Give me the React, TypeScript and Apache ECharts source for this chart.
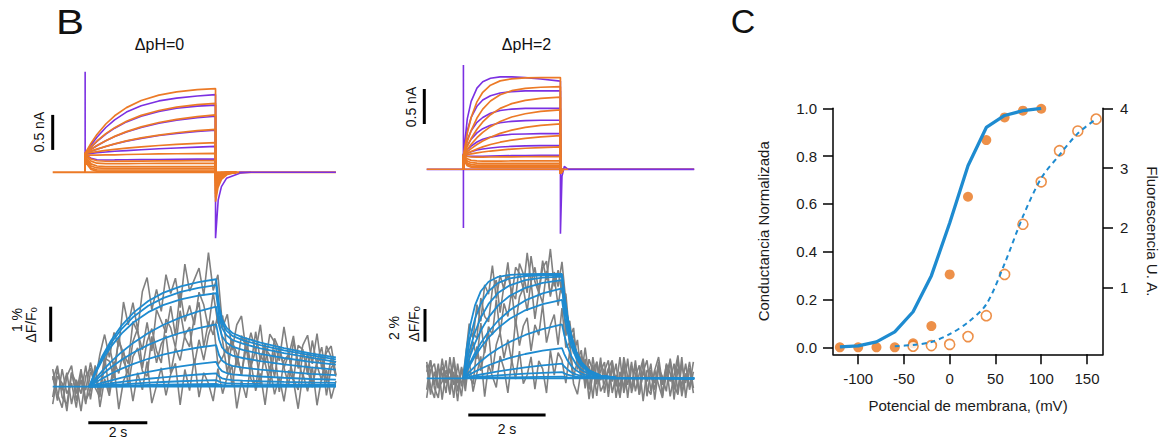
import React, { useEffect, useRef } from "react";
import * as echarts from "echarts";

// ---------------- Panel B, top left: currents, ΔpH=0 (nA vs s) ----------------
const tlOn = 1.1;
const tlOff = 5.52;
const tlEnd = 9.6;
const tlRiseT = [0, 0.2, 0.4, 0.7, 1.0, 1.4, 1.9, 2.5, 3.1, 3.8, 4.42];
const tlFits = [
  [0.27, 0.416, 0.539, 0.69, 0.807, 0.924, 1.025, 1.102, 1.148, 1.18, 1.196],
  [0.27, 0.364, 0.447, 0.552, 0.638, 0.729, 0.813, 0.883, 0.93, 0.966, 0.986],
  [0.27, 0.329, 0.382, 0.452, 0.513, 0.581, 0.649, 0.711, 0.757, 0.796, 0.82],
  [0.27, 0.302, 0.331, 0.371, 0.407, 0.448, 0.491, 0.532, 0.565, 0.594, 0.614],
  [0.27, 0.283, 0.295, 0.312, 0.327, 0.345, 0.364, 0.383, 0.399, 0.414, 0.424],
  [0.25, 0.245, 0.245, 0.248, 0.25, 0.254, 0.258, 0.262, 0.265, 0.268, 0.271],
  [0.25, 0.19, 0.165, 0.158, 0.158, 0.16, 0.161, 0.163, 0.164, 0.166, 0.167],
  [0.24, 0.16, 0.13, 0.124, 0.124, 0.125, 0.126, 0.127, 0.128, 0.128, 0.129],
  [0.22, 0.12, 0.09, 0.082, 0.08, 0.08, 0.08, 0.081, 0.081, 0.081, 0.081],
  [0.2, 0.09, 0.062, 0.057, 0.057, 0.057, 0.057, 0.057, 0.057, 0.057, 0.057],
  [0.18, 0.06, 0.036, 0.033, 0.033, 0.033, 0.033, 0.033, 0.033, 0.033, 0.033],
  [0.15, 0.04, 0.017, 0.015, 0.015, 0.015, 0.015, 0.015, 0.015, 0.015, 0.015],
];
const tlTailT = [0, 0.08, 0.2, 0.4, 0.7];
const tlFitTails = [
  [-0.42, -0.22, -0.1, -0.03, 0],
  [-0.36, -0.18, -0.08, -0.02, 0],
  [-0.31, -0.15, -0.07, -0.02, 0],
  [-0.26, -0.12, -0.05, -0.01, 0],
  [-0.2, -0.09, -0.04, -0.01, 0],
  [-0.15, -0.07, -0.03, -0.01, 0],
  [-0.12, -0.05, -0.02, 0, 0],
  [-0.1, -0.04, -0.02, 0, 0],
  [-0.08, -0.03, -0.01, 0, 0],
  [-0.06, -0.03, -0.01, 0, 0],
  [-0.05, -0.02, -0.01, 0, 0],
  [-0.04, -0.02, 0, 0, 0],
];
const tlRaw = [
  [0.27, 0.39, 0.5, 0.64, 0.75, 0.86, 0.95, 1.02, 1.06, 1.09, 1.11],
  [0.27, 0.36, 0.44, 0.545, 0.63, 0.72, 0.8, 0.87, 0.915, 0.945, 0.96],
  [0.27, 0.33, 0.38, 0.45, 0.51, 0.575, 0.64, 0.7, 0.745, 0.78, 0.8],
  [0.27, 0.3, 0.33, 0.37, 0.405, 0.445, 0.485, 0.525, 0.555, 0.582, 0.6],
  [0.26, 0.27, 0.28, 0.29, 0.3, 0.31, 0.322, 0.336, 0.348, 0.36, 0.37],
  [0.25, 0.2, 0.18, 0.176, 0.177, 0.179, 0.181, 0.183, 0.185, 0.188, 0.19],
];
const tlSpike = 1.437;
const tlRawTailT = [0, 0.09, 0.2, 0.37, 0.82, 1.2];
const tlRawTail = [-0.943, -0.395, -0.205, -0.086, -0.014, 0];

// ---------------- Panel B, top right: currents, ΔpH=2 ----------------
const trOn = 0.95;
const trOff = 3.46;
const trEnd = 6.92;
const trRiseT = [0, 0.1, 0.2, 0.35, 0.5, 0.7, 0.95, 1.25, 1.6, 2.0, 2.51];
const trFits = [
  [0.2, 0.515, 0.74, 0.964, 1.1, 1.202, 1.263, 1.293, 1.305, 1.309, 1.31],
  [0.2, 0.396, 0.553, 0.732, 0.86, 0.976, 1.065, 1.123, 1.156, 1.172, 1.18],
  [0.2, 0.329, 0.439, 0.573, 0.677, 0.78, 0.87, 0.938, 0.984, 1.013, 1.03],
  [0.2, 0.284, 0.358, 0.451, 0.528, 0.609, 0.684, 0.747, 0.794, 0.827, 0.85],
  [0.2, 0.25, 0.296, 0.354, 0.404, 0.459, 0.513, 0.56, 0.598, 0.628, 0.65],
  [0.2, 0.229, 0.255, 0.29, 0.32, 0.354, 0.387, 0.418, 0.443, 0.464, 0.48],
  [0.2, 0.211, 0.221, 0.235, 0.247, 0.261, 0.275, 0.289, 0.301, 0.311, 0.32],
  [0.2, 0.185, 0.178, 0.175, 0.175, 0.176, 0.177, 0.178, 0.179, 0.18, 0.18],
  [0.2, 0.15, 0.128, 0.12, 0.118, 0.118, 0.118, 0.119, 0.119, 0.12, 0.12],
  [0.19, 0.12, 0.095, 0.087, 0.085, 0.085, 0.085, 0.085, 0.085, 0.085, 0.085],
  [0.18, 0.09, 0.068, 0.061, 0.06, 0.06, 0.06, 0.06, 0.06, 0.06, 0.06],
  [0.16, 0.07, 0.046, 0.041, 0.04, 0.04, 0.04, 0.04, 0.04, 0.04, 0.04],
  [0.14, 0.05, 0.03, 0.026, 0.025, 0.025, 0.025, 0.025, 0.025, 0.025, 0.025],
];
const trFitTailT = [0, 0.08];
const trFitTail = [-0.06, 0];
const trRaw = [
  [0.2, 0.72, 0.97, 1.16, 1.25, 1.3, 1.32, 1.32, 1.31, 1.29, 1.26],
  [0.2, 0.55, 0.74, 0.9, 0.99, 1.05, 1.09, 1.11, 1.12, 1.12, 1.12],
  [0.2, 0.42, 0.55, 0.67, 0.74, 0.8, 0.84, 0.86, 0.87, 0.87, 0.87],
  [0.2, 0.34, 0.43, 0.52, 0.58, 0.63, 0.665, 0.685, 0.695, 0.7, 0.7],
  [0.2, 0.28, 0.33, 0.39, 0.43, 0.46, 0.485, 0.5, 0.505, 0.51, 0.51],
  [0.2, 0.23, 0.25, 0.275, 0.29, 0.305, 0.318, 0.328, 0.334, 0.338, 0.34],
  [0.2, 0.19, 0.185, 0.185, 0.187, 0.19, 0.193, 0.195, 0.197, 0.199, 0.2],
];
const trSpikeUp = 1.49;
const trSpikeDown = -0.84;
const trRawTailT = [0, 0.04, 0.1, 0.2];
const trRawTail = [-0.92, -0.1, 0.04, 0];

// ---------------- Panel B, bottom left: fluorescence, ΔpH=0 (% vs s) ----------------
const blOn = 1.24;
const blOff = 5.54;
const blEnd = 9.6;
const blRiseT = [0, 0.2, 0.45, 0.75, 1.1, 1.5, 2, 2.5, 3.1, 3.7, 4.3];
const blDecayT = [0.1, 0.2, 0.35, 0.55, 0.9, 1.5, 2.3, 3.2, 4.06];
const blFitRise = [
  [0, 0.429, 0.885, 1.335, 1.752, 2.117, 2.448, 2.68, 2.868, 2.99, 3.07],
  [0, 0.405, 0.836, 1.262, 1.655, 2.0, 2.312, 2.531, 2.709, 2.825, 2.9],
  [0, 0.373, 0.77, 1.161, 1.524, 1.841, 2.129, 2.33, 2.494, 2.601, 2.67],
  [0, 0.215, 0.459, 0.723, 0.993, 1.259, 1.536, 1.763, 1.982, 2.155, 2.29],
  [0, 0.167, 0.357, 0.562, 0.772, 0.978, 1.194, 1.371, 1.541, 1.675, 1.78],
  [0, 0.112, 0.239, 0.376, 0.516, 0.654, 0.798, 0.916, 1.03, 1.12, 1.19],
  [0, 0.053, 0.115, 0.184, 0.259, 0.337, 0.424, 0.501, 0.581, 0.65, 0.71],
  [0, 0.028, 0.061, 0.099, 0.139, 0.18, 0.227, 0.268, 0.311, 0.348, 0.38],
  [0, 0.014, 0.031, 0.049, 0.069, 0.09, 0.114, 0.134, 0.156, 0.174, 0.19],
  [0, 0.006, 0.013, 0.021, 0.029, 0.038, 0.048, 0.056, 0.066, 0.073, 0.08],
  [0, 0.002, 0.005, 0.008, 0.011, 0.014, 0.018, 0.021, 0.025, 0.027, 0.03],
];
const blFitDecay = [
  [2.33, 1.93, 1.69, 1.535, 1.41, 1.26, 1.105, 0.95, 0.84],
  [2.2, 1.83, 1.6, 1.45, 1.33, 1.19, 1.04, 0.9, 0.78],
  [2.03, 1.68, 1.47, 1.335, 1.23, 1.095, 0.96, 0.83, 0.71],
  [1.74, 1.44, 1.26, 1.145, 1.05, 0.94, 0.82, 0.71, 0.63],
  [1.35, 1.12, 0.98, 0.89, 0.82, 0.73, 0.64, 0.55, 0.49],
  [0.9, 0.75, 0.655, 0.595, 0.547, 0.488, 0.428, 0.369, 0.33],
  [0.54, 0.447, 0.391, 0.355, 0.327, 0.291, 0.256, 0.22, 0.2],
  [0.29, 0.24, 0.21, 0.19, 0.175, 0.156, 0.137, 0.12, 0.11],
  [0.144, 0.12, 0.105, 0.095, 0.087, 0.078, 0.068, 0.059, 0.055],
  [0.061, 0.05, 0.044, 0.04, 0.037, 0.033, 0.029, 0.025, 0.022],
  [0.023, 0.019, 0.017, 0.015, 0.014, 0.012, 0.011, 0.009, 0.008],
];
const blSampleDt = 0.16;
const blGrey = [
  [0.3, -0.4, 0.5, -0.2, 0.1, -0.6, 0.4, -0.1, 0.69, 0.13, 0.93, 1.49, 0.84, 1.55, 1.15, 2.42, 1.77, 2.4, 1.62, 2.72,
   3.12, 2.2, 2.78, 2.15, 3.2, 2.66, 3.1, 2.26, 3.5, 2.73, 3.06, 3.39, 2.61, 3.83, 2.75, 3.2, 1.7, 2.07, 1.04, 1.77,
   2.02, 0.98, 1.54, 1.0, 1.77, 0.64, 1.5, 1.27, 0.74, 1.71, 0.88, 1.45, 0.52, 1.19, 1.47, 0.65, 1.52, 0.5, 0.98, 1.16, 0.34],
  [-0.3, 0.5, -0.1, 0.4, -0.5, 0.2, -0.2, 0.6, -0.36, 0.51, -0.22, 0.63, 1.17, 0.5, 1.33, 0.95, 0.66, 1.86, 1.56, 1.05,
   1.84, 1.02, 2.2, 1.87, 1.54, 2.3, 1.46, 2.72, 1.87, 2.32, 1.76, 2.7, 2.34, 1.67, 2.69, 1.8, 2.03, 0.96, 1.36, 0.6,
   1.46, 1.13, 0.6, 1.57, 0.75, 1.23, 0.4, 1.38, 1.06, 0.54, 0.92, 0.2, 1.18, 1.06, 0.34, 1.32, 0.6, 0.18, 1.17, 0.85, 0.33],
  [0.5, -0.2, -0.6, 0.3, 0.6, -0.4, 0.2, -0.5, 0.42, 0.21, -0.1, 0.88, -0.15, 0.72, 0.38, 1.05, 0.0, 0.86, 1.11, 0.45,
   0.3, 1.44, 0.68, 1.22, 1.46, 0.39, 1.12, 0.75, 1.48, 1.7, 0.62, 1.34, 0.76, 1.48, 1.89, 0.63, 0.84, 1.15, 0.0, 0.87,
   0.35, 1.13, 0.22, 0.0, 0.89, 0.68, 0.07, 1.06, -0.15, 0.74, 0.93, 0.22, -0.09, 1.0, 0.49, -0.02, 0.67, 0.86, -0.25, 0.54, 0.73],
  [-0.5, 0.3, 0.1, -0.7, 0.4, -0.2, 0.5, -0.4, -0.1, 0.61, -0.58, 0.23, -0.26, 0.55, -0.64, 0.17, 0.48, -0.41, 0.4, -0.09,
   0.72, -0.47, 0.03, 0.54, -0.25, 0.36, 0.67, -0.52, 0.49, -0.11, 0.8, -0.3, 0.4, 0.09, -0.41, 0.52, -0.2, 0.3, 0.59, -0.62,
   0.18, -0.32, 0.68, -0.12, 0.38, -0.52, 0.58, -0.22, 0.28, -0.42, 0.47, 0.17, -0.63, 0.37, -0.13, 0.57, -0.53, 0.27, 0.47, -0.34, 0.16],
  [0.2, 0.6, -0.3, -0.5, 0.4, 0.1, -0.7, 0.3, 0.53, -0.03, -0.3, 0.82, 0.73, 0.23, 1.43, 0.72, 0.41, 1.29, 1.66, 0.53,
   1.3, 1.66, 1.02, 0.68, 1.93, 1.68, 1.12, 2.17, 1.41, 1.14, 1.98, 2.41, 1.14, 1.86, 1.48, 2.05, 1.31, 0.38, 1.3, 0.95,
   0.32, 1.4, 0.57, 1.05, 0.03, 1.11, 0.9, 0.28, 1.16, 0.55, 0.03, 1.32, 0.7, 0.29, 0.97, 0.06, 0.74, 1.13, 0.12, 0.8, 0.29],
];

// ---------------- Panel B, bottom right: fluorescence, ΔpH=2 ----------------
const brOn = 0.95;
const brOff = 3.5;
const brEnd = 6.92;
const brRiseT = [0, 0.08, 0.18, 0.3, 0.45, 0.65, 0.9, 1.2, 1.6, 2.05, 2.55];
const brDecayT = [0.06, 0.14, 0.24, 0.36, 0.5, 0.7, 1.0, 1.4];
const brFitRise = [
  [0, 1.748, 3.273, 4.46, 5.327, 5.908, 6.208, 6.329, 6.367, 6.38, 6.38],
  [0, 1.289, 2.541, 3.64, 4.576, 5.334, 5.84, 6.118, 6.257, 6.301, 6.32],
  [0, 0.927, 1.891, 2.824, 3.713, 4.547, 5.225, 5.685, 6.002, 6.152, 6.22],
  [0, 0.666, 1.398, 2.148, 2.922, 3.726, 4.458, 5.052, 5.532, 5.832, 6.0],
  [0, 0.457, 0.985, 1.546, 2.162, 2.849, 3.537, 4.169, 4.763, 5.198, 5.5],
  [0, 0.398, 0.859, 1.349, 1.886, 2.486, 3.086, 3.638, 4.157, 4.536, 4.8],
  [0, 0.211, 0.455, 0.733, 1.046, 1.422, 1.822, 2.224, 2.65, 3.01, 3.3],
  [0, 0.118, 0.255, 0.411, 0.586, 0.797, 1.021, 1.247, 1.486, 1.687, 1.85],
  [0, 0.044, 0.099, 0.159, 0.232, 0.322, 0.426, 0.536, 0.666, 0.788, 0.9],
  [0, 0.019, 0.042, 0.067, 0.098, 0.136, 0.18, 0.226, 0.281, 0.333, 0.38],
  [0, 0.005, 0.011, 0.018, 0.026, 0.036, 0.047, 0.06, 0.074, 0.088, 0.1],
];
const brFitDecay = [
  [5.1, 3.8, 2.62, 1.68, 1.0, 0.48, 0.16, 0.04],
  [5.06, 3.76, 2.6, 1.67, 0.99, 0.47, 0.16, 0.04],
  [4.98, 3.7, 2.56, 1.64, 0.98, 0.47, 0.16, 0.04],
  [4.8, 3.57, 2.47, 1.58, 0.94, 0.45, 0.15, 0.04],
  [4.4, 3.27, 2.26, 1.45, 0.86, 0.41, 0.14, 0.03],
  [3.84, 2.86, 1.97, 1.27, 0.75, 0.36, 0.12, 0.03],
  [2.64, 1.96, 1.36, 0.87, 0.52, 0.25, 0.08, 0.02],
  [1.48, 1.1, 0.76, 0.49, 0.29, 0.14, 0.05, 0.01],
  [0.72, 0.54, 0.37, 0.24, 0.14, 0.07, 0.02, 0.01],
  [0.3, 0.23, 0.16, 0.1, 0.06, 0.03, 0.01, 0],
  [0.08, 0.06, 0.04, 0.03, 0.02, 0.01, 0, 0],
];
const brSampleDt = 0.1;
const brGrey = [
  [0.8, -1.0, 0.4, -0.6, 1.2, -0.3, 0.6, -1.2, 0.9, -0.5, 1.19, 3.34, 2.46, 4.51, 3.49, 5.72, 5.14, 6.89, 4.87, 6.31,
   5.41, 7.09, 4.95, 6.79, 6.43, 5.45, 7.67, 5.88, 6.79, 5.3, 7.2, 6.01, 7.91, 5.62, 6.62, 5.22, 5.16, 2.51, 3.08, 0.54,
   1.39, -0.62, 1.17, 0.43, -0.37, 1.26, -0.89, 0.57, -0.2, 0.9, -1.2, 0.6, -0.4, 1.0, -0.8, 0.3, 1.2, -1.1, 0.5, -0.3,
   0.8, -0.9, 0.2, 1.1, -1.3, 0.6, -0.5, 0.9, -0.7, 0.4],
  [-0.7, 1.1, -0.4, 0.9, -1.3, 0.5, -0.1, 1.0, -0.8, 0.6, -0.79, 1.25, 2.24, 1.18, 3.37, 1.54, 3.16, 2.66, 4.82, 2.76,
   4.58, 3.78, 5.36, 3.23, 4.97, 5.5, 4.12, 5.93, 3.63, 5.32, 4.6, 6.57, 5.14, 6.2, 4.45, 6.0, 2.6, 3.52, 1.52, 2.35,
   0.06, 1.19, -0.69, 1.29, -0.2, 0.44, 0.99, -1.14, 0.7, -0.5, 1.3, -0.9, 0.2, -0.6, 1.1, -1.0, 0.4, -0.2, 0.9, -1.3,
   0.6, 0.1, -0.8, 1.2, -0.4, -1.0, 0.8, -0.3, 1.0, -0.6],
  [1.0, -0.5, -1.2, 0.6, 0.3, -0.9, 1.3, -0.4, 0.2, -1.1, 0.94, 0.19, -0.37, 1.95, 0.45, 1.75, 2.83, 0.4, 2.05, 2.8,
   1.24, 2.37, 0.99, 3.6, 2.0, 3.2, 3.7, 1.68, 3.27, 2.64, 4.51, 2.18, 3.24, 3.9, 2.05, 4.3, 1.88, 2.17, 0.09, 1.05,
   1.72, -0.34, 0.75, -1.23, 1.02, -0.12, 0.45, 1.1, -0.9, 0.2, -0.5, 1.0, -1.2, 0.7, 0.3, -0.8, 1.1, -0.6, -1.0, 0.5,
   1.3, -0.4, 0.8, -1.1, 0.2, 1.4, -0.9, 0.3, -0.5, 1.0],
  [-1.2, 0.5, 0.9, -0.6, -0.2, 1.1, -1.0, 0.4, -1.4, 0.7, -0.28, 1.06, -0.81, 0.32, 1.34, -1.13, 0.8, 0.12, -0.56, 1.36,
   0.59, -0.89, 1.13, -0.05, 1.67, -0.33, 0.2, 1.31, -0.67, 1.06, 0.58, -0.9, 1.71, 0.2, 1.57, 1.1, -0.3, 1.67, -0.33, -0.98,
   0.57, 0.94, -1.27, 0.32, 1.0, -0.8, -0.3, 0.6, 1.1, -1.2, 0.4, -0.6, 1.2, -0.9, 0.1, 0.8, -1.4, 0.5, 0.2, -0.7,
   1.0, -1.1, 0.4, -0.2, 0.9, -0.8, 1.3, -1.2, 0.6, -0.1],
  [0.4, 1.1, -0.6, -1.2, 0.7, 0.2, -0.9, 1.3, -0.3, 0.5, -0.4, 2.42, 2.76, 2.45, 4.91, 3.78, 3.45, 5.46, 6.01, 4.02,
   5.7, 6.33, 5.25, 4.84, 7.02, 6.38, 5.23, 7.47, 5.9, 5.23, 6.75, 7.17, 4.99, 6.5, 5.61, 7.12, 4.69, 1.87, 2.75, 1.11,
   0.08, 1.87, 0.07, 0.82, -1.08, 0.95, 0.3, -0.63, 1.0, -0.2, -1.1, 1.3, 0.1, -0.6, 0.8, -1.0, 0.4, 1.1, -0.8, 0.5,
   -0.4, -1.2, 0.9, 0.3, -0.7, 1.2, -1.1, 0.2, 0.6, -0.9],
];

// ---------------- Panel C ----------------
const gvVolt = [-120, -100, -80, -60, -40, -20, 0, 20, 40, 60, 80, 100];
const gvFit = [0.002, 0.006, 0.023, 0.065, 0.149, 0.3, 0.52, 0.76, 0.92, 0.97, 0.99, 1.0];
const gvData = [0, 0, 0, 0, 0.017, 0.089, 0.305, 0.63, 0.867, 0.962, 0.99, 0.998];
const fvVolt = [-40, -20, 0, 20, 40, 60, 80, 100, 120, 140, 160];
const fvData = [0.02, 0.03, 0.05, 0.18, 0.53, 1.22, 2.06, 2.77, 3.29, 3.62, 3.82];
const fvFitVolt = [-60, -40, -20, 0, 20, 40, 60, 80, 100, 120, 140, 160];
const fvFit = [0.02, 0.04, 0.09, 0.22, 0.42, 0.72, 1.4, 2.19, 2.83, 3.22, 3.58, 3.82];
const xTicks = [-100, -50, 0, 50, 100, 150];
const yLeftTicks = [0, 0.2, 0.4, 0.6, 0.8, 1.0];
const yRightTicks = [1, 2, 3, 4];

const ORANGE = "#ec7a26";
const PURPLE = "#7b30e2";
const BLUE = "#1e8bd0";
const GREY = "#808080";
const DOT = "#e8741c";
const FONT = "Liberation Sans, Arial, Helvetica, sans-serif";

type P = [number, number];
const seg = (t0: number, ts: number[], vs: number[]): P[] => ts.map((t, i) => [t0 + t, vs[i]] as P);

function line(g: number, data: P[], color: string, width: number) {
  return {
    type: "line",
    xAxisIndex: g,
    yAxisIndex: g,
    data,
    symbol: "none",
    showSymbol: false,
    silent: true,
    clip: false,
    lineStyle: { color, width },
  };
}

function buildOption() {
  const series: any[] = [];

  // ---- top left currents
  tlRaw.forEach((vals, k) => {
    const d: P[] = [[tlOn, 0]];
    if (k === 0) d.push([tlOn, tlSpike]);
    d.push(...seg(tlOn, tlRiseT, vals));
    if (k === 0) d.push(...seg(tlOff, tlRawTailT, tlRawTail));
    else d.push([tlOff, 0]);
    series.push(line(0, d, PURPLE, 1.6));
  });
  series.push(line(0, [[0, 0], [tlEnd, 0]], ORANGE, 2));
  tlFits.forEach((vals, k) => {
    const d: P[] = [[tlOn, 0], ...seg(tlOn, tlRiseT, vals), ...seg(tlOff, tlTailT, tlFitTails[k])];
    series.push(line(0, d, ORANGE, 1.7));
  });
  series.push(line(0, [[tlOff + 0.8, 0], [tlEnd, 0]], PURPLE, 1.6));

  // ---- top right currents
  series.push(line(1, [[0, 0], [trEnd, 0]], PURPLE, 1.8));
  trRaw.forEach((vals, k) => {
    const d: P[] = [[trOn, 0]];
    if (k === 0) d.push([trOn, trSpikeUp], [trOn, trSpikeDown]);
    d.push(...seg(trOn, trRiseT, vals));
    if (k === 0) d.push(...seg(trOff, trRawTailT, trRawTail));
    else d.push([trOff, 0]);
    series.push(line(1, d, PURPLE, 1.6));
  });
  series.push(line(1, [[0, 0], [trEnd, 0]], ORANGE, 1.6));
  trFits.forEach((vals) => {
    const d: P[] = [[trOn, 0], ...seg(trOn, trRiseT, vals), ...seg(trOff, trFitTailT, trFitTail)];
    series.push(line(1, d, ORANGE, 1.7));
  });
  series.push(line(1, [[trOff + 0.2, 0], [trEnd, 0]], PURPLE, 1.5));

  // ---- bottom left fluorescence
  blGrey.forEach((vals) => {
    series.push(line(2, vals.map((v, i) => [i * blSampleDt, v] as P), GREY, 1.6));
  });
  series.push(line(2, [[0, 0], [blEnd, 0]], BLUE, 1.8));
  blFitRise.forEach((vals, k) => {
    const d: P[] = [...seg(blOn, blRiseT, vals), ...seg(blOff, blDecayT, blFitDecay[k])];
    series.push(line(2, d, BLUE, 1.8));
  });

  // ---- bottom right fluorescence
  brGrey.forEach((vals) => {
    series.push(line(3, vals.map((v, i) => [i * brSampleDt, v] as P), GREY, 1.6));
  });
  series.push(line(3, [[0, 0], [brEnd, 0]], BLUE, 1.8));
  brFitRise.forEach((vals, k) => {
    const d: P[] = [...seg(brOn, brRiseT, vals), ...seg(brOff, brDecayT, brFitDecay[k]), [brEnd, 0]];
    series.push(line(3, d, BLUE, 1.8));
  });

  // ---- scale bars, in the data units of each panel
  series.push(line(0, [[0, 0.32], [0, 0.82]], "#000", 3));
  series.push(line(1, [[-0.062, 0.647], [-0.062, 1.147]], "#000", 3));
  series.push(line(2, [[-0.068, 1.286], [-0.068, 2.286]], "#000", 3));
  series.push(line(3, [[-0.044, 2.24], [-0.044, 4.24]], "#000", 3));
  series.push(line(2, [[1.207, -1.03], [3.207, -1.03]], "#000", 3));
  series.push(line(3, [[1.076, -2.24], [3.076, -2.24]], "#000", 3));

  // ---- panel C
  series.push({
    type: "line", xAxisIndex: 4, yAxisIndex: 4, symbol: "none", silent: true,
    data: gvVolt.map((v, i) => [v, gvFit[i]]),
    lineStyle: { color: BLUE, width: 3.3 },
  });
  series.push({
    type: "line", xAxisIndex: 4, yAxisIndex: 5, symbol: "none", silent: true, smooth: 0.3,
    data: fvFitVolt.map((v, i) => [v, fvFit[i]]),
    lineStyle: { color: BLUE, width: 2, type: [5, 4] },
  });
  series.push({
    type: "scatter", xAxisIndex: 4, yAxisIndex: 4, symbol: "circle", symbolSize: 10, silent: true,
    data: gvVolt.map((v, i) => [v, gvData[i]]),
    itemStyle: { color: DOT },
  });
  series.push({
    type: "scatter", xAxisIndex: 4, yAxisIndex: 5, symbol: "circle", symbolSize: 10, silent: true,
    data: fvVolt.map((v, i) => [v, fvData[i]]),
    itemStyle: { color: "#ffffff", borderColor: DOT, borderWidth: 1.6 },
  });

  const hidden = (g: number, min: number, max: number) => ({ type: "value", gridIndex: g, min, max, show: false });
  const axisLine = { show: true, onZero: false, lineStyle: { color: "#000", width: 1.5 } };
  const lblStyle = { color: "#1a1a1a", fontSize: 15, fontFamily: FONT };

  const txt = (x: number, y: number, text: string, fontSize: number, rotation = 0, extra: any = {}, scaleX = 1) => ({
    type: "text", x, y, rotation, scaleX, silent: true,
    style: { text, fontSize, fontFamily: FONT, fill: "#111", align: "center", verticalAlign: "middle", ...extra },
  });
  const dff = { rich: { s: { fontSize: 9, fontFamily: FONT, fill: "#111", padding: [5, 0, 0, 0] } } };

  return {
    animation: false,
    backgroundColor: "#ffffff",
    textStyle: { fontFamily: FONT },
    grid: [
      { left: 46.8, top: 53.3, width: 289.1, height: 196 },
      { left: 418.97, top: 50.3, width: 275.19, height: 196 },
      { left: 46.8, top: 246.7, width: 289.1, height: 182 },
      { left: 418.97, top: 247.5, width: 275.19, height: 173.3 },
      { left: 833, top: 108.3, width: 270, height: 246 },
    ],
    xAxis: [
      hidden(0, -0.2, tlEnd),
      hidden(1, -0.2, trEnd),
      hidden(2, -0.2, blEnd),
      hidden(3, -0.2, brEnd),
      {
        type: "value", gridIndex: 4, min: -127.5, max: 167.5,
        axisLine, splitLine: { show: false },
        axisTick: { show: true, length: 10, lineStyle: { color: "#000", width: 1.5 }, customValues: xTicks },
        axisLabel: { ...lblStyle, margin: 17, customValues: xTicks },
        name: "Potencial de membrana, (mV)", nameLocation: "middle", nameGap: 44,
        nameTextStyle: { ...lblStyle },
      },
    ],
    yAxis: [
      hidden(0, -1.1, 1.7),
      hidden(1, -1.1, 1.7),
      hidden(2, -1.2, 4),
      hidden(3, -2.6, 8),
      {
        type: "value", gridIndex: 4, position: "left", min: -0.029, max: 1.0,
        axisLine, splitLine: { show: false },
        axisTick: { show: true, length: 10, lineStyle: { color: "#000", width: 1.5 }, customValues: yLeftTicks },
        axisLabel: { ...lblStyle, margin: 16, customValues: yLeftTicks, formatter: (v: number) => v.toFixed(1) },
        name: "Conductancia Normalizada", nameLocation: "middle", nameGap: 62,
        nameTextStyle: { ...lblStyle },
      },
      {
        type: "value", gridIndex: 4, position: "right", min: -0.116, max: 4,
        axisLine, splitLine: { show: false },
        axisTick: { show: true, length: 10, lineStyle: { color: "#000", width: 1.5 }, customValues: yRightTicks },
        axisLabel: { ...lblStyle, margin: 17, customValues: yRightTicks },
        name: "Fluorescencia U. A.", nameLocation: "middle", nameGap: 42, nameRotate: -90,
        nameTextStyle: { ...lblStyle },
      },
    ],
    series,
    graphic: [
      txt(70, 22, "B", 35, 0, {}, 1.2),
      txt(743, 21, "C", 34),
      txt(159.5, 44, "ΔpH=0", 16),
      txt(526.5, 44, "ΔpH=2", 16),
      txt(39, 132, "0.5 nA", 14, Math.PI / 2),
      txt(411, 107, "0.5 nA", 14, Math.PI / 2),
      txt(17, 320, "1 %", 14, Math.PI / 2),
      txt(31, 325, "ΔF/F{s|0}", 14, Math.PI / 2, dff),
      txt(394, 328, "2 %", 14, Math.PI / 2),
      txt(414, 324, "ΔF/F{s|0}", 14, Math.PI / 2, dff),
      txt(118, 432, "2 s", 14),
      txt(507, 429, "2 s", 14),
    ],
  };
}

export default function App() {
  const ref = useRef<HTMLDivElement>(null);
  useEffect(() => {
    if (!ref.current) return;
    const chart = echarts.init(ref.current, undefined, { renderer: "svg" });
    chart.setOption(buildOption() as any);
    return () => chart.dispose();
  }, []);
  return (
    <div
      ref={ref}
      style={{ position: "absolute", left: 0, top: 0, width: 1165, height: 441, background: "#fff" }}
    />
  );
}
